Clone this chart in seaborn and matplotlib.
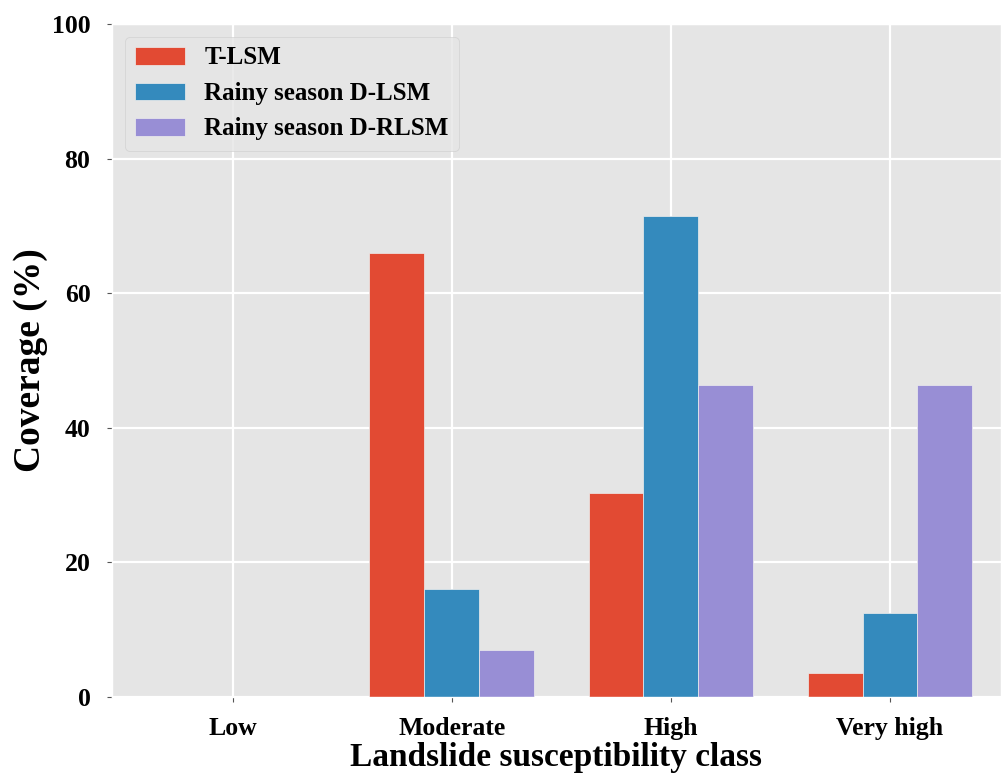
import pandas as pd
import matplotlib
matplotlib.use('Agg')
import matplotlib.pyplot as plt
import seaborn as sns

classes = ['Low', 'Moderate', 'High', 'Very high']
t_lsm = [0, 66.0, 30.3, 3.6]
rainy_dlsm = [0, 16.0, 71.4, 12.5]
rainy_drlsm = [0, 7.0, 46.4, 46.4]
series = ['T-LSM', 'Rainy season D-LSM', 'Rainy season D-RLSM']
colors = ['#E24A33', '#348ABD', '#988ED5']

df = pd.DataFrame({
    'cls': classes * 3,
    'Coverage': t_lsm + rainy_dlsm + rainy_drlsm,
    'series': [s for s in series for _ in classes],
})

plt.style.use('ggplot')
plt.rcParams['font.family'] = ['Liberation Serif', 'DejaVu Serif']
plt.rcParams['font.weight'] = 'bold'

fig = plt.figure(figsize=(10.01, 7.76), dpi=100)
ax = fig.add_axes([112 / 1001, 1 - 697 / 776, 1 - 112 / 1001, (697 - 24) / 776])

sns.barplot(data=df, x='cls', y='Coverage', hue='series', order=classes,
            hue_order=series, palette=colors, width=0.75, gap=0,
            saturation=1, edgecolor='#EEEEEE', linewidth=0.5, ax=ax)

ax.set_xlim(-0.55, 3.507)
ax.set_ylim(0, 100)
ax.set_yticks([0, 20, 40, 60, 80, 100])
ax.grid(True, axis='both', color='white', linewidth=1.6)
ax.set_axisbelow(True)
ax.tick_params(axis='both', labelsize=18.5, labelcolor='black')
ax.tick_params(axis='x', pad=11)
ax.tick_params(axis='y', pad=12)
for lbl in ax.get_xticklabels() + ax.get_yticklabels():
    lbl.set_fontweight('bold')

ax.set_xlabel('Landslide susceptibility class', fontsize=24, fontweight='bold',
              color='black', labelpad=1)
ax.set_ylabel('Coverage (%)', fontsize=27, fontweight='bold', color='black')
ax.yaxis.set_label_coords(-(112 - 48) / 889, 0.5)

leg = ax.legend(loc='upper left', frameon=True, title=None,
                prop={'weight': 'bold', 'size': 18})

fig.savefig('out.png', dpi=100)
